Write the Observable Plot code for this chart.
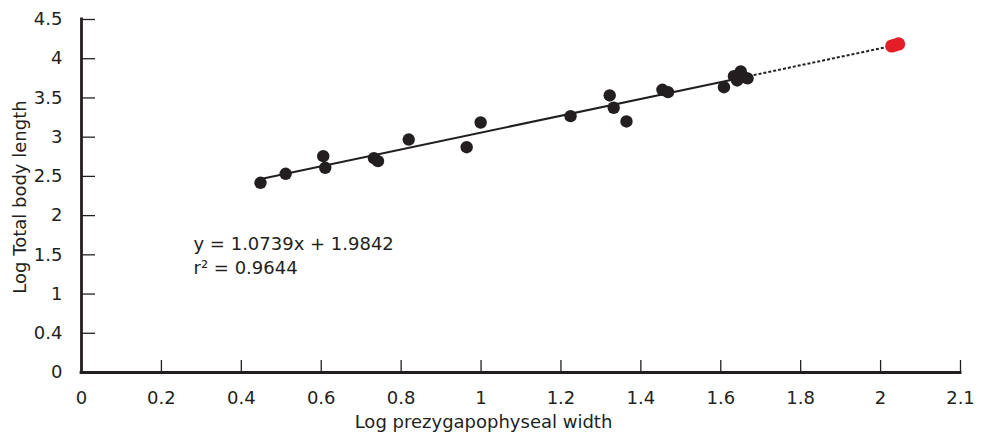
<!DOCTYPE html>
<html>
<head>
<meta charset="utf-8">
<script src="https://cdn.jsdelivr.net/npm/d3@7"></script>
<script src="https://cdn.jsdelivr.net/npm/@observablehq/plot@0.6"></script>
<style>
  html, body { margin: 0; padding: 0; background: #ffffff; }
  #chart { width: 982px; height: 432px; }
</style>
</head>
<body>
<div id="chart"></div>
<script>
// ---- data ----
const widthLog = [0.448, 0.511, 0.605, 0.610, 0.732, 0.742, 0.819, 0.964, 0.999, 1.224,
                  1.322, 1.332, 1.364, 1.454, 1.468, 1.608, 1.633, 1.650, 1.641, 1.658, 1.667];
const lengthLog = [2.418, 2.533, 2.758, 2.610, 2.732, 2.694, 2.970, 2.872, 3.187, 3.268,
                   3.532, 3.375, 3.200, 3.604, 3.574, 3.637, 3.777, 3.837, 3.723, 3.765, 3.750];
const redWidthLog = [2.028, 2.036, 2.045];
const redLengthLog = [4.162, 4.175, 4.188];

const slope = 1.0739;
const intercept = 1.9842;
const fitRange = [0.44, 1.67];      // solid regression segment
const extRange = [1.67, 2.02];      // dotted extrapolation

const equationText = "y = 1.0739x + 1.9842";
const r2Text = "r\u00B2 = 0.9644";
const xLabel = "Log prezygapophyseal width";
const yLabel = "Log Total body length";

const xTickValues = [0, 0.2, 0.4, 0.6, 0.8, 1, 1.2, 1.4, 1.6, 1.8, 2, 2.2];
const xTickLabels = ["0", "0.2", "0.4", "0.6", "0.8", "1", "1.2", "1.4", "1.6", "1.8", "2", "2.1"];
const yTickValues = [0, 0.5, 1, 1.5, 2, 2.5, 3, 3.5, 4, 4.5];
const yTickLabels = ["0", "0.4", "1", "1.5", "2", "2.5", "3", "3.5", "4", "4.5"];

// ---- build ----
const points = widthLog.map((x, i) => ({x, y: lengthLog[i]}));
const redPoints = redWidthLog.map((x, i) => ({x, y: redLengthLog[i]}));
const fitY = x => slope * x + intercept;

const W = 982, H = 432;
const mL = 81, mR = 22, mT = 19, mB = 60;
const frameW = W - mL - mR, frameH = H - mT - mB;
const ink = "#231f20";

const chart = Plot.plot({
  width: W, height: H,
  marginLeft: mL, marginRight: mR, marginTop: mT, marginBottom: mB,
  style: {fontFamily: "'DejaVu Sans', sans-serif", fontSize: "18px", color: ink, background: "#ffffff"},
  x: {domain: [0, 2.2]},
  y: {domain: [0, 4.5]},
  marks: [
    // tick labels
    Plot.axisX(xTickValues, {anchor: "bottom", tickSize: 0, tickPadding: 19, fontSize: 18,
      tickFormat: d => xTickLabels[xTickValues.indexOf(d)], label: null}),
    Plot.axisY(yTickValues, {anchor: "left", tickSize: 0, tickPadding: 19, fontSize: 18,
      tickFormat: d => yTickLabels[yTickValues.indexOf(d)], label: null}),
    // inward ticks
    Plot.axisX(xTickValues, {anchor: "top", tickSize: 13, dy: frameH, strokeWidth: 1.3,
      stroke: ink, tickFormat: () => "", label: null}),
    Plot.axisY(yTickValues, {anchor: "right", tickSize: 13, dx: -frameW, strokeWidth: 1.3,
      stroke: ink, tickFormat: () => "", label: null}),
    // axis lines
    Plot.ruleY([0], {stroke: ink, strokeWidth: 2.8, strokeLinecap: "square"}),
    Plot.ruleX([0], {stroke: ink, strokeWidth: 2.8, strokeLinecap: "square"}),
    // regression lines
    Plot.line(fitRange, {x: d => d, y: fitY, stroke: ink, strokeWidth: 2.1}),
    Plot.line(extRange, {x: d => d, y: fitY, stroke: ink, strokeWidth: 2,
      strokeDasharray: "3,2", strokeLinecap: "butt"}),
    // points
    Plot.dot(points, {x: "x", y: "y", r: 6.2, fill: ink, stroke: "none"}),
    Plot.dot(redPoints, {x: "x", y: "y", r: 6.6, fill: "#e31e26", stroke: "none"}),
    // annotation
    Plot.text([equationText], {text: d => d, frameAnchor: "top-left", dx: 112, dy: 230.5,
      textAnchor: "start", lineAnchor: "bottom", fontSize: 18, fill: ink}),
    Plot.text([r2Text], {text: d => d, frameAnchor: "top-left", dx: 112, dy: 254.5,
      textAnchor: "start", lineAnchor: "bottom", fontSize: 18, fill: ink}),
    // axis titles
    Plot.text([xLabel], {text: d => d, frameAnchor: "bottom-left", dx: 402, dy: 55,
      textAnchor: "middle", lineAnchor: "bottom", fontSize: 18, fill: ink}),
    Plot.text([yLabel], {text: d => d, frameAnchor: "left", dx: -55.5, dy: 1, rotate: -90,
      textAnchor: "middle", lineAnchor: "bottom", fontSize: 18, fill: ink})
  ]
});
document.getElementById("chart").appendChild(chart);
</script>
</body>
</html>
